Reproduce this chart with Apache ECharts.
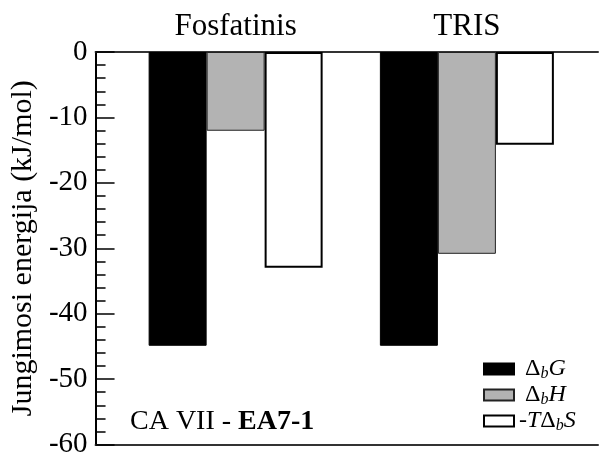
<!DOCTYPE html>
<html><head><meta charset="utf-8">
<script src="https://cdn.jsdelivr.net/npm/echarts@6/dist/echarts.min.js"></script>
<style>html,body{margin:0;padding:0;background:#fff}#c{width:599px;height:459px}</style>
</head><body><div id="c"></div>
<script>
var categories = ['Fosfatinis', 'TRIS'];
var seriesNames = ['ΔbG', 'ΔbH', '-TΔbS'];
var dG = [-44.4, -44.4];
var dH = [-11.9, -30.5];
var TdS = [-32.6, -14.0];
var yTicks = [-60, -50, -40, -30, -20, -10, 0];

var F = 'Liberation Serif';
var chart = echarts.init(document.getElementById('c'));
var legendRich = {
  n: {fontFamily: F, fontSize: 24, color: '#000', lineHeight: 26},
  i: {fontFamily: F, fontSize: 24, fontStyle: 'italic', color: '#000', lineHeight: 26},
  s: {fontFamily: F, fontSize: 16, fontStyle: 'italic', color: '#000', lineHeight: 12, verticalAlign: 'bottom'}
};
var legendFmt = {
  'ΔbG': '{n| Δ}{s|b}{i|G}',
  'ΔbH': '{n| Δ}{s|b}{i|H}',
  '-TΔbS': '{n|-}{i|T}{n|Δ}{s|b}{i|S}'
};
var option = {
  animation: false,
  grid: [
    {left: 93, right: 1, top: 52, height: 397},
    {left: 120, right: 16.5, top: 52, height: 397}
  ],
  title: {
    text: '{n|CA VII - }{b|EA7-1}',
    left: 125, top: 403,
    textStyle: {fontWeight: 'normal', rich: {
      n: {fontFamily: F, fontSize: 28, fontWeight: 'normal', color: '#000'},
      b: {fontFamily: F, fontSize: 28, fontWeight: 'bold', color: '#000'}
    }}
  },
  legend: {
    orient: 'vertical', left: 478, top: 352,
    itemWidth: 30, itemHeight: 11, itemGap: 1,
    icon: 'rect',
    data: seriesNames,
    formatter: function (n) { return legendFmt[n]; },
    textStyle: {rich: legendRich}
  },
  xAxis: [
    {gridIndex: 0, type: 'value', min: 0, max: 1, position: 'top',
      axisLine: {show: true, lineStyle: {color: '#333', width: 2}},
      axisTick: {show: false}, axisLabel: {show: false}, splitLine: {show: false}},
    {gridIndex: 0, type: 'value', min: 0, max: 1, position: 'bottom',
      axisLine: {show: true, lineStyle: {color: '#333', width: 2}},
      axisTick: {show: false}, axisLabel: {show: false}, splitLine: {show: false}},
    {gridIndex: 1, type: 'category', data: categories, position: 'top',
      axisLine: {show: false}, axisTick: {show: false},
      axisLabel: {fontFamily: F, fontSize: 31, color: '#000', margin: 10}}
  ],
  yAxis: [
    {gridIndex: 0, type: 'value', min: -60, max: 0, interval: 10,
      name: 'Jungimosi energija (kJ/mol)', nameLocation: 'middle', nameGap: 56,
      nameTextStyle: {fontFamily: F, fontSize: 30, color: '#000'},
      axisLine: {show: true, lineStyle: {color: '#000', width: 2}},
      axisTick: {show: true, inside: true, length: 19, lineStyle: {color: '#000', width: 1.5}},
      minorTick: {show: true, splitNumber: 5, length: 10, lineStyle: {color: '#000', width: 1.5}},
      axisLabel: {fontFamily: F, fontSize: 29, color: '#000', margin: 8,
        customValues: yTicks},
      splitLine: {show: false}},
    {gridIndex: 1, type: 'value', min: -60, max: 0, show: false}
  ],
  series: [
    {name: seriesNames[0], type: 'bar', xAxisIndex: 2, yAxisIndex: 1, data: dG,
      barWidth: 58, barGap: '0%',
      itemStyle: {color: '#000', borderColor: '#000', borderWidth: 1}},
    {name: seriesNames[1], type: 'bar', xAxisIndex: 2, yAxisIndex: 1, data: dH,
      barWidth: 58, barGap: '0%',
      itemStyle: {color: '#b3b3b3', borderColor: '#222', borderWidth: 1}},
    {name: seriesNames[2], type: 'bar', xAxisIndex: 2, yAxisIndex: 1, data: TdS,
      barWidth: 58, barGap: '0%',
      itemStyle: {color: '#fff', borderColor: '#000', borderWidth: 2}}
  ]
};
chart.setOption(option);
</script></body></html>
